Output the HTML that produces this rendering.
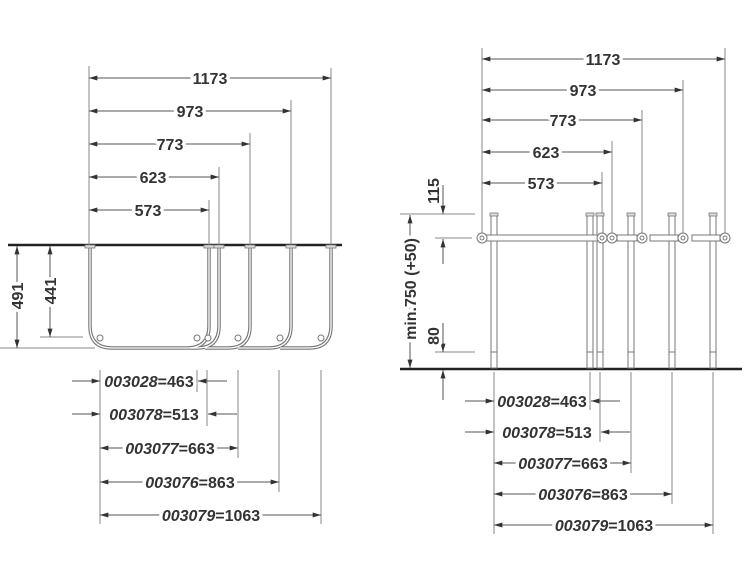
<!DOCTYPE html>
<html><head><meta charset="utf-8"><style>
html,body{margin:0;padding:0;background:#fff;}
svg{display:block;}
text{font-family:"Liberation Sans",sans-serif;font-weight:bold;font-size:16px;fill:#333;paint-order:stroke fill;stroke:#fff;stroke-width:7px;stroke-linejoin:round;}
text.fg{stroke:none;}
text.bg{fill:#fff;}
.l{stroke:#555;stroke-width:1;fill:none;}
.e{stroke:#888;stroke-width:1;fill:none;}
.it{font-style:italic;}
</style></head><body>
<svg width="750" height="563" viewBox="0 0 750 563" xmlns="http://www.w3.org/2000/svg">
<defs>
<marker id="a" viewBox="0 0 10 6" refX="10" refY="3" markerWidth="9" markerHeight="5" markerUnits="userSpaceOnUse" orient="auto-start-reverse"><path d="M0,0 L10,3 L0,6 z" fill="#333"/></marker>
</defs>

<!-- ============ LEFT VIEW ============ -->
<line x1="8" y1="245" x2="342" y2="245" stroke="#222" stroke-width="2.5"/>
<g class="e">
<line x1="89" y1="66" x2="89" y2="245"/>
<line x1="331" y1="68" x2="331" y2="245"/>
<line x1="291" y1="100" x2="291" y2="245"/>
<line x1="250" y1="133" x2="250" y2="245"/>
<line x1="219" y1="167" x2="219" y2="245"/>
<line x1="209" y1="200" x2="209" y2="245"/>
</g>
<g class="l">
<line x1="89" y1="78" x2="331" y2="78" marker-start="url(#a)" marker-end="url(#a)"/>
<line x1="89" y1="111" x2="291" y2="111" marker-start="url(#a)" marker-end="url(#a)"/>
<line x1="89" y1="144" x2="250" y2="144" marker-start="url(#a)" marker-end="url(#a)"/>
<line x1="89" y1="177" x2="219" y2="177" marker-start="url(#a)" marker-end="url(#a)"/>
<line x1="89" y1="210" x2="209" y2="210" marker-start="url(#a)" marker-end="url(#a)"/>
</g>
<text x="210" y="84" text-anchor="middle">1173</text>
<text x="190" y="117" text-anchor="middle">973</text>
<text x="170" y="150" text-anchor="middle">773</text>
<text x="153" y="183" text-anchor="middle">623</text>
<text x="148" y="216" text-anchor="middle">573</text>

<g fill="none">
<g stroke="#777" stroke-width="3.5">
<path d="M90,246 V326 Q90,348 112,348 H187 Q209,348 209,326 V246"/>
<path d="M190,348 H197 Q219,348 219,326 V246"/>
<path d="M205,348 H228 Q250,348 250,326 V246"/>
<path d="M238,348 H269 Q291,348 291,326 V246"/>
<path d="M280,348 H309 Q331,348 331,326 V246"/>
</g>
<g stroke="#fff" stroke-width="1.3">
<path d="M90,246 V326 Q90,348 112,348 H187 Q209,348 209,326 V246"/>
<path d="M190,348 H197 Q219,348 219,326 V246"/>
<path d="M205,348 H228 Q250,348 250,326 V246"/>
<path d="M238,348 H269 Q291,348 291,326 V246"/>
<path d="M280,348 H309 Q331,348 331,326 V246"/>
</g>
</g>
<g fill="#ddd" stroke="#777" stroke-width="0.8">
<rect x="85" y="245" width="10" height="3"/><rect x="204" y="245" width="10" height="3"/><rect x="214" y="245" width="10" height="3"/>
<rect x="245" y="245" width="10" height="3"/><rect x="286" y="245" width="10" height="3"/><rect x="326" y="245" width="10" height="3"/>
</g>
<g fill="#fff" stroke="#777" stroke-width="1">
<circle cx="100" cy="338" r="3"/><circle cx="197" cy="338" r="3"/><circle cx="208" cy="338" r="3"/>
<circle cx="238" cy="338" r="3"/><circle cx="280" cy="338" r="3"/><circle cx="321" cy="338" r="3"/>
</g>
<g class="e"><line x1="40" y1="337" x2="83" y2="337"/><line x1="0" y1="348" x2="95" y2="348"/></g>
<line class="l" x1="17" y1="246" x2="17" y2="348" marker-start="url(#a)" marker-end="url(#a)"/>
<line class="l" x1="50" y1="246" x2="50" y2="337" marker-start="url(#a)" marker-end="url(#a)"/>
<text transform="translate(23,296) rotate(-90)" text-anchor="middle">491</text>
<text transform="translate(56,291) rotate(-90)" text-anchor="middle">441</text>

<g class="e">
<line x1="100" y1="370" x2="100" y2="524"/>
<line x1="197" y1="370" x2="197" y2="392"/>
<line x1="207" y1="370" x2="207" y2="426"/>
<line x1="238" y1="370" x2="238" y2="458"/>
<line x1="279" y1="370" x2="279" y2="492"/>
<line x1="321" y1="370" x2="321" y2="524"/>
</g>
<g class="l">
<line x1="72" y1="381" x2="100" y2="381" marker-end="url(#a)"/>
<line x1="227" y1="381" x2="198" y2="381" marker-end="url(#a)"/>
<line x1="72" y1="414" x2="100" y2="414" marker-end="url(#a)"/>
<line x1="237" y1="414" x2="208" y2="414" marker-end="url(#a)"/>
<line x1="100" y1="448" x2="238" y2="448" marker-start="url(#a)" marker-end="url(#a)"/>
<line x1="100" y1="482" x2="279" y2="482" marker-start="url(#a)" marker-end="url(#a)"/>
<line x1="100" y1="515" x2="321" y2="515" marker-start="url(#a)" marker-end="url(#a)"/>
</g>
<g>
<text class="bg" x="149" y="387" text-anchor="middle"><tspan class="it">003028</tspan>=463</text>
<text class="bg" x="154" y="420" text-anchor="middle"><tspan class="it">003078</tspan>=513</text>
<text class="bg" x="170" y="454" text-anchor="middle"><tspan class="it">003077</tspan>=663</text>
<text class="bg" x="190" y="488" text-anchor="middle"><tspan class="it">003076</tspan>=863</text>
<text class="bg" x="211" y="521" text-anchor="middle"><tspan class="it">003079</tspan>=1063</text>
<text class="fg" x="149" y="387" text-anchor="middle"><tspan class="it">003028</tspan>=463</text>
<text class="fg" x="154" y="420" text-anchor="middle"><tspan class="it">003078</tspan>=513</text>
<text class="fg" x="170" y="454" text-anchor="middle"><tspan class="it">003077</tspan>=663</text>
<text class="fg" x="190" y="488" text-anchor="middle"><tspan class="it">003076</tspan>=863</text>
<text class="fg" x="211" y="521" text-anchor="middle"><tspan class="it">003079</tspan>=1063</text>
</g>

<!-- ============ RIGHT VIEW ============ -->
<line x1="400" y1="369" x2="742" y2="369" stroke="#222" stroke-width="2.5"/>
<g class="e">
<line x1="482" y1="48" x2="482" y2="234"/>
<line x1="725" y1="48" x2="725" y2="234"/>
<line x1="683" y1="80" x2="683" y2="234"/>
<line x1="642" y1="110" x2="642" y2="234"/>
<line x1="612" y1="141" x2="612" y2="234"/>
<line x1="602" y1="172" x2="602" y2="234"/>
</g>
<g class="l">
<line x1="482" y1="59" x2="725" y2="59" marker-start="url(#a)" marker-end="url(#a)"/>
<line x1="482" y1="90" x2="683" y2="90" marker-start="url(#a)" marker-end="url(#a)"/>
<line x1="482" y1="120" x2="642" y2="120" marker-start="url(#a)" marker-end="url(#a)"/>
<line x1="482" y1="152" x2="612" y2="152" marker-start="url(#a)" marker-end="url(#a)"/>
<line x1="482" y1="183" x2="602" y2="183" marker-start="url(#a)" marker-end="url(#a)"/>
</g>
<text x="603" y="65" text-anchor="middle">1173</text>
<text x="583" y="96" text-anchor="middle">973</text>
<text x="563" y="126" text-anchor="middle">773</text>
<text x="546" y="158" text-anchor="middle">623</text>
<text x="541" y="189" text-anchor="middle">573</text>

<g fill="#fff" stroke="#777" stroke-width="1">
<rect x="491" y="215" width="6" height="153"/>
<rect x="587" y="215" width="6" height="153"/>
<rect x="597" y="215" width="6" height="153"/>
<rect x="628" y="215" width="6" height="153"/>
<rect x="669" y="215" width="6" height="153"/>
<rect x="710" y="215" width="6" height="153"/>
</g>
<g stroke="#777" stroke-width="1">
<line x1="491" y1="352" x2="497" y2="352"/><line x1="587" y1="352" x2="593" y2="352"/><line x1="597" y1="352" x2="603" y2="352"/>
<line x1="628" y1="352" x2="634" y2="352"/><line x1="669" y1="352" x2="675" y2="352"/><line x1="710" y1="352" x2="716" y2="352"/>
</g>
<g fill="#ddd" stroke="#777" stroke-width="0.8">
<rect x="490" y="213" width="8" height="3"/><rect x="586" y="213" width="8" height="3"/><rect x="596" y="213" width="8" height="3"/>
<rect x="627" y="213" width="8" height="3"/><rect x="668" y="213" width="8" height="3"/><rect x="709" y="213" width="8" height="3"/>
</g>
<g fill="#fff" stroke="#777" stroke-width="1">
<rect x="483" y="235" width="119" height="6"/>
<rect x="617" y="235" width="20" height="6"/>
<rect x="650" y="235" width="28" height="6"/>
<rect x="692" y="235" width="28" height="6"/>
<circle cx="482" cy="238" r="5"/><circle cx="602" cy="238" r="5"/><circle cx="612" cy="238" r="5"/>
<circle cx="642" cy="238" r="5"/><circle cx="683" cy="238" r="5"/><circle cx="725" cy="238" r="5"/>
<circle cx="482" cy="238" r="2"/><circle cx="602" cy="238" r="2"/><circle cx="612" cy="238" r="2"/>
<circle cx="642" cy="238" r="2"/><circle cx="683" cy="238" r="2"/><circle cx="725" cy="238" r="2"/>
</g>

<g class="e">
<line x1="400" y1="214" x2="475" y2="214"/>
<line x1="435" y1="238" x2="472" y2="238"/>
<line x1="435" y1="352" x2="475" y2="352"/>
</g>
<g class="l">
<line x1="410" y1="215" x2="410" y2="368" marker-start="url(#a)" marker-end="url(#a)"/>
<line x1="443" y1="185" x2="443" y2="214" marker-end="url(#a)"/>
<line x1="443" y1="264" x2="443" y2="239" marker-end="url(#a)"/>
<line x1="443" y1="323" x2="443" y2="352" marker-end="url(#a)"/>
<line x1="443" y1="400" x2="443" y2="370" marker-end="url(#a)"/>
</g>
<text transform="translate(416,289) rotate(-90)" text-anchor="middle">min.750 (+50)</text>
<text transform="translate(439,191) rotate(-90)" text-anchor="middle">115</text>
<text transform="translate(439,336) rotate(-90)" text-anchor="middle">80</text>

<g class="e">
<line x1="494" y1="372" x2="494" y2="534"/>
<line x1="590" y1="372" x2="590" y2="410"/>
<line x1="600" y1="372" x2="600" y2="442"/>
<line x1="631" y1="372" x2="631" y2="473"/>
<line x1="672" y1="372" x2="672" y2="504"/>
<line x1="713" y1="372" x2="713" y2="534"/>
</g>
<g class="l">
<line x1="465" y1="401" x2="494" y2="401" marker-end="url(#a)"/>
<line x1="620" y1="401" x2="591" y2="401" marker-end="url(#a)"/>
<line x1="465" y1="432" x2="494" y2="432" marker-end="url(#a)"/>
<line x1="630" y1="432" x2="601" y2="432" marker-end="url(#a)"/>
<line x1="494" y1="463" x2="631" y2="463" marker-start="url(#a)" marker-end="url(#a)"/>
<line x1="494" y1="494" x2="672" y2="494" marker-start="url(#a)" marker-end="url(#a)"/>
<line x1="494" y1="525" x2="713" y2="525" marker-start="url(#a)" marker-end="url(#a)"/>
</g>
<g>
<text class="bg" x="542" y="407" text-anchor="middle"><tspan class="it">003028</tspan>=463</text>
<text class="bg" x="547" y="438" text-anchor="middle"><tspan class="it">003078</tspan>=513</text>
<text class="bg" x="563" y="469" text-anchor="middle"><tspan class="it">003077</tspan>=663</text>
<text class="bg" x="583" y="500" text-anchor="middle"><tspan class="it">003076</tspan>=863</text>
<text class="bg" x="604" y="531" text-anchor="middle"><tspan class="it">003079</tspan>=1063</text>
<text class="fg" x="542" y="407" text-anchor="middle"><tspan class="it">003028</tspan>=463</text>
<text class="fg" x="547" y="438" text-anchor="middle"><tspan class="it">003078</tspan>=513</text>
<text class="fg" x="563" y="469" text-anchor="middle"><tspan class="it">003077</tspan>=663</text>
<text class="fg" x="583" y="500" text-anchor="middle"><tspan class="it">003076</tspan>=863</text>
<text class="fg" x="604" y="531" text-anchor="middle"><tspan class="it">003079</tspan>=1063</text>
</g>
</svg>
</body></html>
